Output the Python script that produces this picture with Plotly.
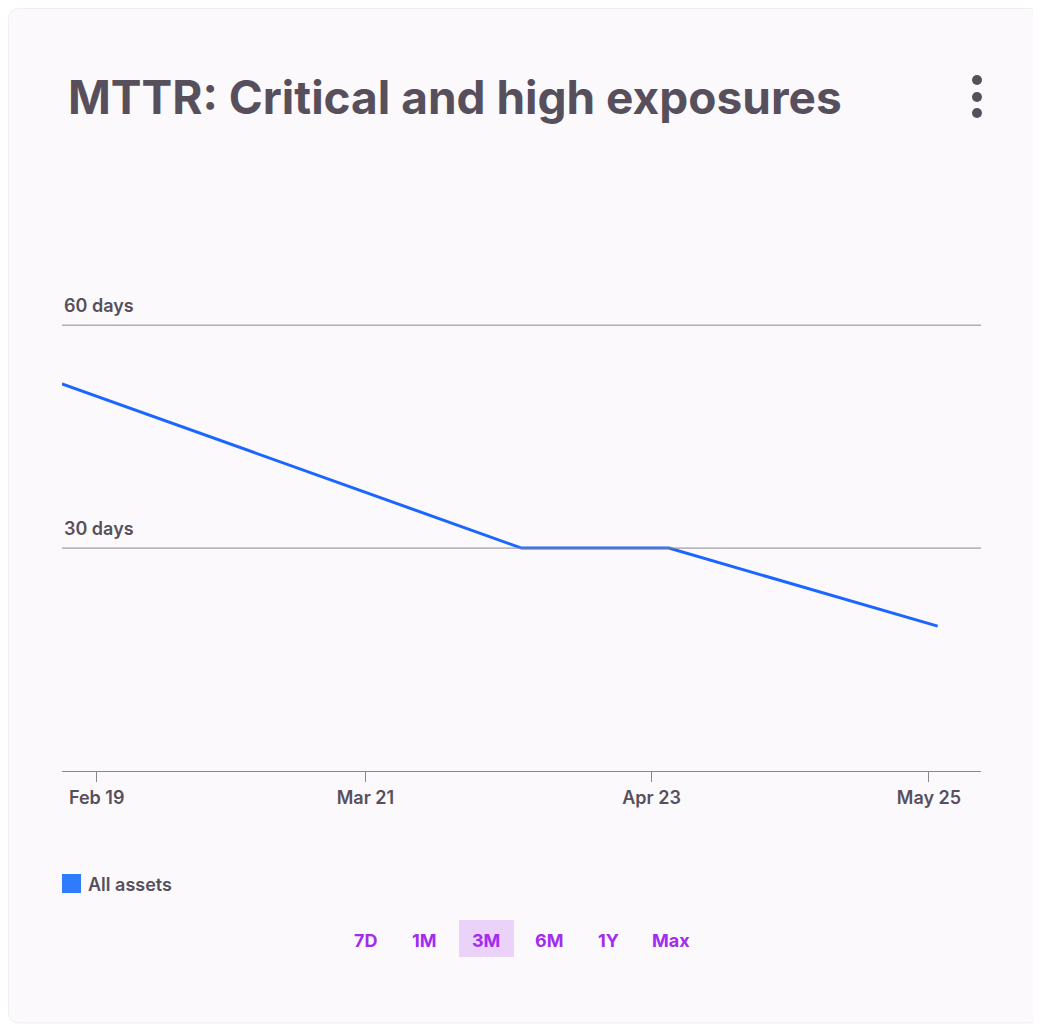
import plotly.graph_objects as go

dates = ["2024-02-15", "2024-04-08", "2024-04-25", "2024-05-26"]
values = [52.1, 30, 30, 19.5]
tick_dates = ["2024-02-19", "2024-03-21", "2024-04-23", "2024-05-25"]
tick_labels = ["Feb 19", "Mar 21", "Apr 23", "May 25"]
grid_vals = [30, 60]
grid_labels = ["30 days", "60 days"]
ranges = ["7D", "1M", "3M", "6M", "1Y", "Max"]
range_x = [365, 424, 486, 549, 608, 671]

O = 8  # page body offset
L, R, T, B = 62, 981, 236, 771
W, H = 1041 - O, 1024 - O
def px(x): return (x - L) / (R - L)
def py(y): return (B - y) / (B - T)

FONT = "Inter, Roboto, sans-serif"
TXT = "#57505c"

fig = go.Figure()
fig.add_trace(go.Scatter(x=dates, y=values, mode="lines",
                         line=dict(color="#1a66ff", width=3), showlegend=False))

a, b, c, d = O + 0.5, 1040, O + 0.5, 1023
shapes = [dict(type="path", xref="paper", yref="paper", layer="below",
               path=f"M {px(a+11)},{py(c)} L {px(b-11)},{py(c)} Q {px(b)},{py(c)} {px(b)},{py(c+11)} "
                    f"L {px(b)},{py(d-11)} Q {px(b)},{py(d)} {px(b-11)},{py(d)} "
                    f"L {px(a+11)},{py(d)} Q {px(a)},{py(d)} {px(a)},{py(d-11)} L {px(a)},{py(c+11)} "
                    f"Q {px(a)},{py(c)} {px(a+11)},{py(c)} Z",
               fillcolor="#fbf9fc", line=dict(color="#f1edf3", width=1))]
for v in grid_vals:
    shapes.append(dict(type="line", xref="paper", yref="y", x0=0, x1=1, y0=v, y1=v,
                       line=dict(color="#8a8590", width=1)))
for cy in (80, 97, 113):
    shapes.append(dict(type="circle", xref="paper", yref="paper",
                       x0=px(972), x1=px(982), y0=py(cy - 5), y1=py(cy + 5),
                       fillcolor=TXT, line=dict(width=0)))
shapes.append(dict(type="rect", xref="paper", yref="paper", x0=px(62), x1=px(81),
                   y0=py(874), y1=py(893), fillcolor="#2f7bff", line=dict(width=0)))
shapes.append(dict(type="rect", xref="paper", yref="paper", x0=px(459), x1=px(514),
                   y0=py(920), y1=py(957), fillcolor="#ead2f8", line=dict(width=0)))

ann = [dict(text="MTTR: Critical and high exposures", xref="paper", yref="paper",
            x=px(66), y=py(97), xanchor="left", yanchor="middle", showarrow=False,
            font=dict(family=FONT, size=46, color=TXT, weight=700))]
for v, lab in zip(grid_vals, grid_labels):
    ann.append(dict(text=lab, xref="paper", yref="y", x=0, y=v, xanchor="left",
                    yanchor="bottom", yshift=7, showarrow=False,
                    font=dict(family=FONT, size=18, color=TXT, weight=600)))
ann.append(dict(text="All assets", xref="paper", yref="paper", x=px(86), y=py(884),
                xanchor="left", yanchor="middle", showarrow=False,
                font=dict(family=FONT, size=18, color=TXT, weight=600)))
for lab, x in zip(ranges, range_x):
    ann.append(dict(text=lab, xref="paper", yref="paper", x=px(x), y=py(940),
                    xanchor="center", yanchor="middle", showarrow=False,
                    font=dict(family=FONT, size=18, color="#a22cf0", weight=700)))

fig.update_layout(
    width=W, height=H, margin=dict(l=L - O, r=1041 - R, t=T - O, b=1024 - B),
    paper_bgcolor="white", plot_bgcolor="rgba(0,0,0,0)",
    shapes=shapes, annotations=ann, showlegend=False,
    xaxis=dict(type="date", range=["2024-02-15", "2024-05-31"], tickvals=tick_dates,
               ticktext=tick_labels, showgrid=False, showline=True, linecolor="#8a8590",
               ticks="outside", ticklen=10, tickcolor="#8a8590", zeroline=False,
               tickfont=dict(family=FONT, size=18, color=TXT, weight=600)),
    yaxis=dict(range=[0, 72], showgrid=False, showticklabels=False, zeroline=False),
)
fig.write_html("out.html")
